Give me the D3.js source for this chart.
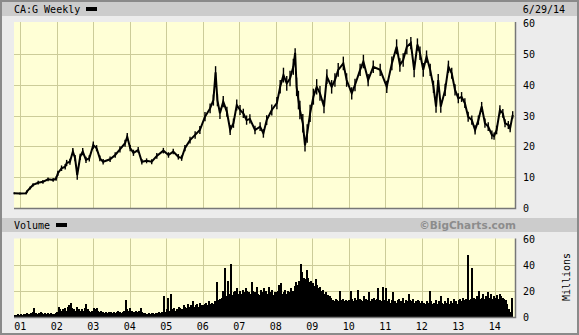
<!DOCTYPE html>
<html>
<head>
<meta charset="utf-8">
<script src="https://cdn.jsdelivr.net/npm/d3@7"></script>
<style>
  body { margin: 0; background: #ececec; }
  svg { display: block; }
  text { font-family: "DejaVu Sans Mono", monospace; font-size: 10px; fill: #000; }
</style>
</head>
<body>
<svg class="chart"></svg>
<script>
// weekly CA:G (decimal year, price)
var priceDate = [2000.83, 2000.99, 2001.16, 2001.18, 2001.27, 2001.35, 2001.49, 2001.62, 2001.76, 2001.90,
  2001.98, 2002.03, 2002.13, 2002.23, 2002.27, 2002.36, 2002.44, 2002.50, 2002.56, 2002.64,
  2002.71, 2002.80, 2002.89, 2003.00, 2003.09, 2003.18, 2003.27, 2003.46, 2003.60, 2003.73,
  2003.87, 2003.93, 2004.01, 2004.10, 2004.23, 2004.33, 2004.46, 2004.60, 2004.74, 2004.92,
  2005.06, 2005.19, 2005.33, 2005.42, 2005.51, 2005.65, 2005.79, 2005.92, 2006.06, 2006.20,
  2006.29, 2006.35, 2006.40, 2006.47, 2006.56, 2006.66, 2006.75, 2006.84, 2006.93, 2007.02,
  2007.11, 2007.20, 2007.29, 2007.43, 2007.57, 2007.66, 2007.75, 2007.89, 2008.03, 2008.12,
  2008.21, 2008.30, 2008.39, 2008.48, 2008.53, 2008.57, 2008.62, 2008.66, 2008.74, 2008.80,
  2008.86, 2008.94, 2009.03, 2009.12, 2009.21, 2009.32, 2009.40, 2009.53, 2009.62, 2009.71,
  2009.85, 2009.94, 2010.08, 2010.17, 2010.31, 2010.40, 2010.53, 2010.67, 2010.86, 2011.04,
  2011.18, 2011.31, 2011.40, 2011.49, 2011.59, 2011.70, 2011.79, 2011.88, 2011.95, 2012.04,
  2012.13, 2012.23, 2012.32, 2012.39, 2012.45, 2012.52, 2012.64, 2012.73, 2012.82, 2012.91,
  2013.00, 2013.09, 2013.18, 2013.27, 2013.37, 2013.46, 2013.55, 2013.64, 2013.73, 2013.82,
  2013.92, 2013.98, 2014.05, 2014.14, 2014.22, 2014.28, 2014.37, 2014.42, 2014.49]
var priceClose = [4.8, 4.7, 4.8, 5.3, 6.5, 7.5, 8.2, 8.5, 9.3, 9.1,
  9.5, 11.3, 12.9, 13.4, 14.6, 15, 18.3, 16.2, 10.7, 16.6,
  18.3, 15.6, 16.1, 20.4, 19.4, 16.1, 15, 15.8, 17.2, 19,
  21, 23.1, 19.4, 17.9, 18.8, 15, 15.3, 15, 16.9, 18.6,
  17.2, 18.3, 16.6, 16.2, 19.4, 22, 23.7, 25.3, 29.6, 32.3,
  35, 44, 35, 30.7, 34.5, 31.2, 25.3, 27.5, 33.4, 31.8,
  30.7, 28.5, 28.9, 25.3, 26.4, 24.2, 28.5, 31.8, 34, 39.3,
  43.1, 40.4, 42, 45.8, 50.3, 39.3, 35, 31.8, 27.5, 20.3,
  24.2, 30.7, 36.1, 39.3, 37.2, 32.9, 42.6, 39.3, 41.5, 44.8,
  46.9, 41.5, 37.2, 39.9, 44.8, 47.5, 41.5, 45.8, 44.8, 39.3,
  46.9, 52.3, 46.4, 48, 52.3, 53.5, 44.8, 53, 50.2, 44.8,
  49.1, 44.8, 39.3, 32.9, 41.5, 32.9, 38.3, 45.8, 43.7, 38.3,
  35.6, 36, 34, 29.6, 28.5, 25.3, 28.5, 32.9, 27.5, 26.4,
  23.7, 23.3, 25.3, 31.8, 30.7, 27.5, 26.9, 25.9, 30.2]
// half of the weekly high-low spread seen around each point
var priceRange = [0.3, 0.3, 0.3, 0.4, 0.5, 0.5, 0.6, 0.6, 0.6, 0.6,
  0.7, 0.8, 0.9, 0.9, 1, 1, 1.2, 1, 1.5, 1,
  1.2, 1, 1, 1.2, 1, 0.9, 0.9, 0.9, 0.9, 1,
  1.1, 1.2, 1, 1, 1, 0.9, 0.8, 0.8, 0.9, 0.9,
  0.9, 0.9, 0.9, 0.9, 1, 1.1, 1.2, 1.3, 1.5, 1.6,
  1.8, 2, 2, 1.8, 1.8, 1.6, 1.6, 1.5, 1.8, 1.6,
  1.5, 1.5, 1.5, 1.4, 1.4, 1.4, 1.6, 1.8, 2, 2.2,
  2.4, 2.4, 2.5, 2.6, 1.5, 3, 3, 3, 3, 2,
  3, 2.8, 2.6, 2.5, 2.4, 2.2, 2.4, 2.2, 2.2, 2.2,
  2.2, 2.2, 2, 2, 2, 2.2, 2, 2, 2, 2,
  2.2, 2.4, 2.2, 2.2, 2.4, 2, 2.4, 2, 2.2, 2.2,
  2, 2, 2, 2, 2, 2, 2, 2, 1.8, 1.8,
  1.6, 1.6, 1.6, 1.6, 1.5, 1.5, 1.5, 1.5, 1.5, 1.4,
  1.4, 1.2, 1.4, 1.5, 1.4, 1.3, 1.3, 1.3, 1.2]

// volume in millions, one value per half month from Nov 2000
var volStart = 2000.833
var volume = [
  1.5, 1.5, 2, 1.5,
  2, 1.5, 2, 2.5, 3, 2, 2.5, 3, 4, 7, 3, 2.5, 3, 4, 3, 2.5, 3, 2, 3, 2.5, 3, 2, 2.5, 3,
  4, 8, 6, 5, 6, 7, 5, 8, 9, 11, 7, 6, 5, 8, 6, 5, 6, 5, 7, 10, 6, 5, 4, 5,
  7, 6, 7, 5, 4, 5, 4, 3, 4, 3, 4, 4, 3, 4, 3, 4, 5, 4, 3, 4, 5, 13, 6, 5,
  7, 5, 4, 4, 5, 4, 5, 7, 4, 3, 3, 2.5, 3, 2.5, 3, 3, 2.5, 3, 3, 3.5, 3, 4, 16, 4,
  6, 15, 5, 18, 6, 7, 5, 6, 8, 7, 6, 9, 8, 7, 10, 8, 9, 12, 8, 9, 10, 8, 11, 9,
  9, 10, 11, 9, 12, 10, 11, 10, 12, 27, 13, 14, 15, 20, 38, 16, 28, 18, 41, 17, 19, 20, 22, 18,
  20, 18, 21, 19, 22, 20, 19, 18, 27, 20, 19, 23, 18, 17, 21, 19, 22, 20, 18, 23, 19, 21, 17, 19,
  19, 20, 25, 26, 18, 19, 21, 18, 20, 19, 22, 20, 24, 27, 25, 28, 41, 35, 30, 29, 36, 30, 27, 28,
  26, 24, 29, 25, 22, 23, 20, 21, 18, 19, 17, 16, 15, 13, 12, 14, 13, 12, 20, 13, 14, 12, 13, 12,
  13, 20, 14, 12, 15, 13, 21, 14, 13, 12, 16, 14, 13, 19, 12, 14, 15, 13, 14, 22, 13, 12, 23, 13,
  22, 12, 14, 11, 13, 19, 12, 11, 13, 14, 12, 15, 11, 13, 12, 18, 13, 12, 14, 11, 12, 13, 12, 11,
  12, 11, 10, 12, 11, 20, 12, 10, 11, 13, 10, 12, 16, 11, 10, 12, 11, 15, 10, 12, 11, 14, 12, 10,
  13, 14, 12, 15, 13, 14, 48, 13, 14, 38, 15, 14, 16, 20, 14, 15, 18, 14, 16, 19, 15, 18, 14, 16,
  15, 17, 14, 18, 16, 15, 14, 13, 10, 6, 4, 15]

var years = [2001, 2002, 2003, 2004, 2005, 2006, 2007, 2008, 2009, 2010, 2011, 2012, 2013, 2014]
var yearLabels = ['01', '02', '03', '04', '05', '06', '07', '08', '09', '10', '11', '12', '13', '14']
var priceTicks = [0, 10, 20, 30, 40, 50, 60]
var volTicks = [0, 20, 40, 60]

var W = 579, H = 335
var plot = {left: 14, right: 515, top: 22, bottom: 208}
var vplot = {left: 14, right: 515, top: 238.5, bottom: 317}

var svg = d3.select('.chart')
    .attr('width', W)
    .attr('height', H)

// frame
svg.append('rect')
    .attr('x', 1).attr('y', 1)
    .attr('width', W - 2).attr('height', H - 2)
    .attr('fill', '#ececec')
    .attr('stroke', '#8a8a8a')
    .attr('stroke-width', 2)

// header bars
svg.append('rect').attr('x', 2).attr('y', 2).attr('width', W - 4).attr('height', 14).attr('fill', '#cccccc')
svg.append('rect').attr('x', 2).attr('y', 218).attr('width', W - 4).attr('height', 14).attr('fill', '#cccccc')

svg.append('text').attr('x', 14).attr('y', 13).text('CA:G Weekly')
svg.append('rect').attr('x', 86).attr('y', 7).attr('width', 11).attr('height', 4).attr('fill', '#000')
svg.append('text').attr('x', 565).attr('y', 13).attr('text-anchor', 'end').text('6/29/14')

svg.append('text').attr('x', 14).attr('y', 229).text('Volume')
svg.append('rect').attr('x', 56).attr('y', 223).attr('width', 11).attr('height', 4).attr('fill', '#000')
svg.append('text')
    .attr('x', 516).attr('y', 229)
    .attr('text-anchor', 'end')
    .style('font-family', '"DejaVu Sans", Verdana, sans-serif')
    .style('font-weight', 'bold')
    .style('font-size', '10.5px')
    .style('fill', '#8c8c8c')
    .text('\u00a9BigCharts.com')

var x = d3.scaleLinear().domain([2001, 2014]).range([20.3, 494.8])
var y = d3.scaleLinear().domain([0, 60]).range([208, 23])
var yv = d3.scaleLinear().domain([0, 60]).range([317, 239])

function panel(p, yscale, ticks) {
  var g = svg.append('g')
  g.append('rect')
      .attr('x', p.left).attr('y', p.top)
      .attr('width', p.right - p.left).attr('height', p.bottom - p.top)
      .attr('fill', '#ffffd6')

  g.selectAll('.vg').data(years).enter().append('line')
      .attr('x1', function(d) { return Math.round(x(d)) + 0.5 })
      .attr('x2', function(d) { return Math.round(x(d)) + 0.5 })
      .attr('y1', p.top).attr('y2', p.bottom)
      .attr('stroke', '#cccc99')

  g.selectAll('.hg').data(ticks.filter(function(d) { return d > 0 && d < 60 })).enter().append('line')
      .attr('x1', p.left).attr('x2', p.right)
      .attr('y1', function(d) { return Math.round(yscale(d)) + 0.5 })
      .attr('y2', function(d) { return Math.round(yscale(d)) + 0.5 })
      .attr('stroke', '#cccc99')

  var axis = d3.axisRight(yscale).tickValues(ticks).tickSize(0).tickPadding(0)
  var ag = svg.append('g')
      .attr('transform', 'translate(523,0)')
      .call(axis)
  ag.select('.domain').remove()
  ag.selectAll('text')
      .attr('dy', '0.35em')
      .style('font-family', '"DejaVu Sans Mono", monospace')
      .style('font-size', '10px')
  return g
}

function border(p) {
  svg.append('path')
      .attr('d', 'M' + p.left + ',' + (p.bottom + 0.5) + 'H' + (p.right + 0.5) + 'V' + p.top)
      .attr('fill', 'none')
      .attr('stroke', '#777')
      .attr('stroke-width', 1.5)
}

panel(plot, y, priceTicks)
panel(vplot, yv, volTicks)

// price: weekly high-low ticks plus close line
svg.selectAll('.hl').data(priceDate).enter().append('line')
    .attr('x1', function(d) { return x(d) })
    .attr('x2', function(d) { return x(d) })
    .attr('y1', function(d, i) { return y(priceClose[i] + priceRange[i]) })
    .attr('y2', function(d, i) { return y(priceClose[i] - priceRange[i]) })
    .attr('stroke', '#000')
    .attr('stroke-width', 1.4)

var pts = priceDate.map(function(d, i) { return [d, priceClose[i]] })
svg.append('path')
    .datum(pts)
    .attr('fill', 'none')
    .attr('stroke', '#000')
    .attr('stroke-width', 2)
    .attr('stroke-linejoin', 'miter')
    .attr('d', d3.line()
      .x(function(d) { return x(d[0]) })
      .y(function(d) { return y(d[1]) }))

// volume bars
var step = 1 / 24
svg.selectAll('.vol').data(volume).enter().append('rect')
    .attr('x', function(d, i) { return Math.floor(x(volStart + i * step)) })
    .attr('width', 2)
    .attr('y', function(d) { return Math.round(yv(d)) })
    .attr('height', function(d) { return Math.round(yv(0)) - Math.round(yv(d)) })
    .attr('fill', '#000')
    .attr('shape-rendering', 'crispEdges')

border(plot)
border(vplot)

// year labels
svg.selectAll('.yl').data(years).enter().append('text')
    .attr('x', function(d) { return x(d) })
    .attr('y', 330)
    .attr('text-anchor', 'middle')
    .text(function(d, i) { return yearLabels[i] })

svg.append('text')
    .attr('transform', 'translate(570,277) rotate(-90)')
    .attr('text-anchor', 'middle')
    .text('Millions')
</script>
</body>
</html>
